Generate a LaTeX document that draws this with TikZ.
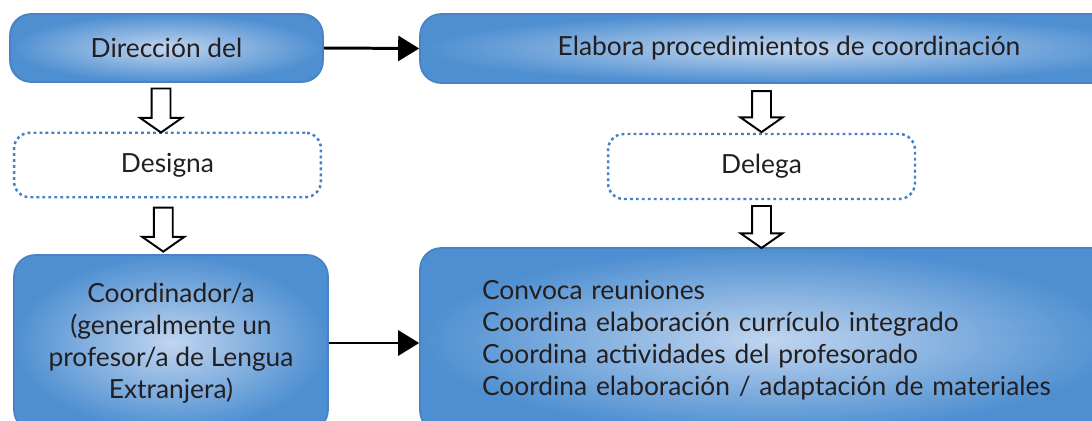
\documentclass[tikz,border=0pt]{standalone}
\usepackage{fontspec}
\setmainfont{Lato}
\usepackage{xcolor}
\usetikzlibrary{arrows.meta,positioning,shapes.arrows,calc}

\definecolor{boxout}{RGB}{78,143,209}
\definecolor{boxin}{RGB}{192,213,239}
\definecolor{boxedge}{RGB}{70,132,198}
\definecolor{dotblue}{RGB}{66,128,200}
\definecolor{ink}{RGB}{35,31,32}

\begin{document}
\begin{tikzpicture}[
    x=0.02cm, y=0.02cm,
    every node/.style={text=ink, font=\fontsize{15}{18.2}\selectfont},
    box/.style={rounded corners=12pt, inner color=boxin, outer color=boxout, draw=boxedge, line width=1pt, align=center, inner sep=0pt},
    dotbox/.style={rounded corners=9pt, draw=dotblue, line width=1.4pt, dash pattern=on 1.6pt off 1.8pt, align=center, minimum width=6.14cm, minimum height=1.29cm},
    arrow/.style={-{Triangle[length=0.42cm,width=0.5cm]}, line width=1.7pt, black},
    hollow/.style={single arrow, draw=black, fill=white, line width=1.1pt, rotate=-90, inner sep=0pt, text height=0.34cm, text depth=0pt, single arrow head extend=0.23cm, single arrow tip angle=110}
]
    \clip (0,0) rectangle (1092,420);

    % top row
    \node[box, minimum width=6.26cm, minimum height=1.36cm] (dir) at (166.5,372) {Dirección del};
    \node[box, minimum width=14.76cm, minimum height=1.38cm] (elab) at (789,371.5) {Elabora procedimientos de coordinación};

    % middle row
    \node[dotbox] (designa) at (167.5,255) {Designa};
    \node[dotbox, minimum height=1.3cm] (delega) at (761.5,253.5) {Delega};

    % bottom row
    \node[box, minimum width=6.28cm, minimum height=3.52cm] (coord) at (171,77) {Coordinador/a\\(generalmente un\\profesor/a de Lengua\\Extranjera)};
    \node[box, minimum height=3.68cm, text width=11.52cm, inner xsep=1.24cm, align=left] (tareas) at (770,80) {Convoca reuniones\\Coordina elaboración currículo integrado\\Coordina actividades del profesorado\\Coordina elaboración / adaptación de materiales};

    % arrows
    \draw[arrow] (dir.east) -- (elab.west);
    \draw[arrow] (coord.east) -- (coord.east -| tareas.west);

    \node[hollow, minimum height=0.88cm] (h1) at ($(dir.south)!0.5!(designa.north)+(-6,0)$) {};
    \node[hollow, minimum height=0.88cm] (h2) at ($(designa.south)!0.5!(coord.north)+(-6,0)$) {};
    \node[hollow, minimum height=0.82cm] (h3) at ($(elab.south -| delega.north)!0.5!(delega.north)$) {};
    \node[hollow, minimum height=0.84cm] (h4) at ($(delega.south)!0.5!(tareas.north -| delega.south)$) {};
\end{tikzpicture}
\end{document}
